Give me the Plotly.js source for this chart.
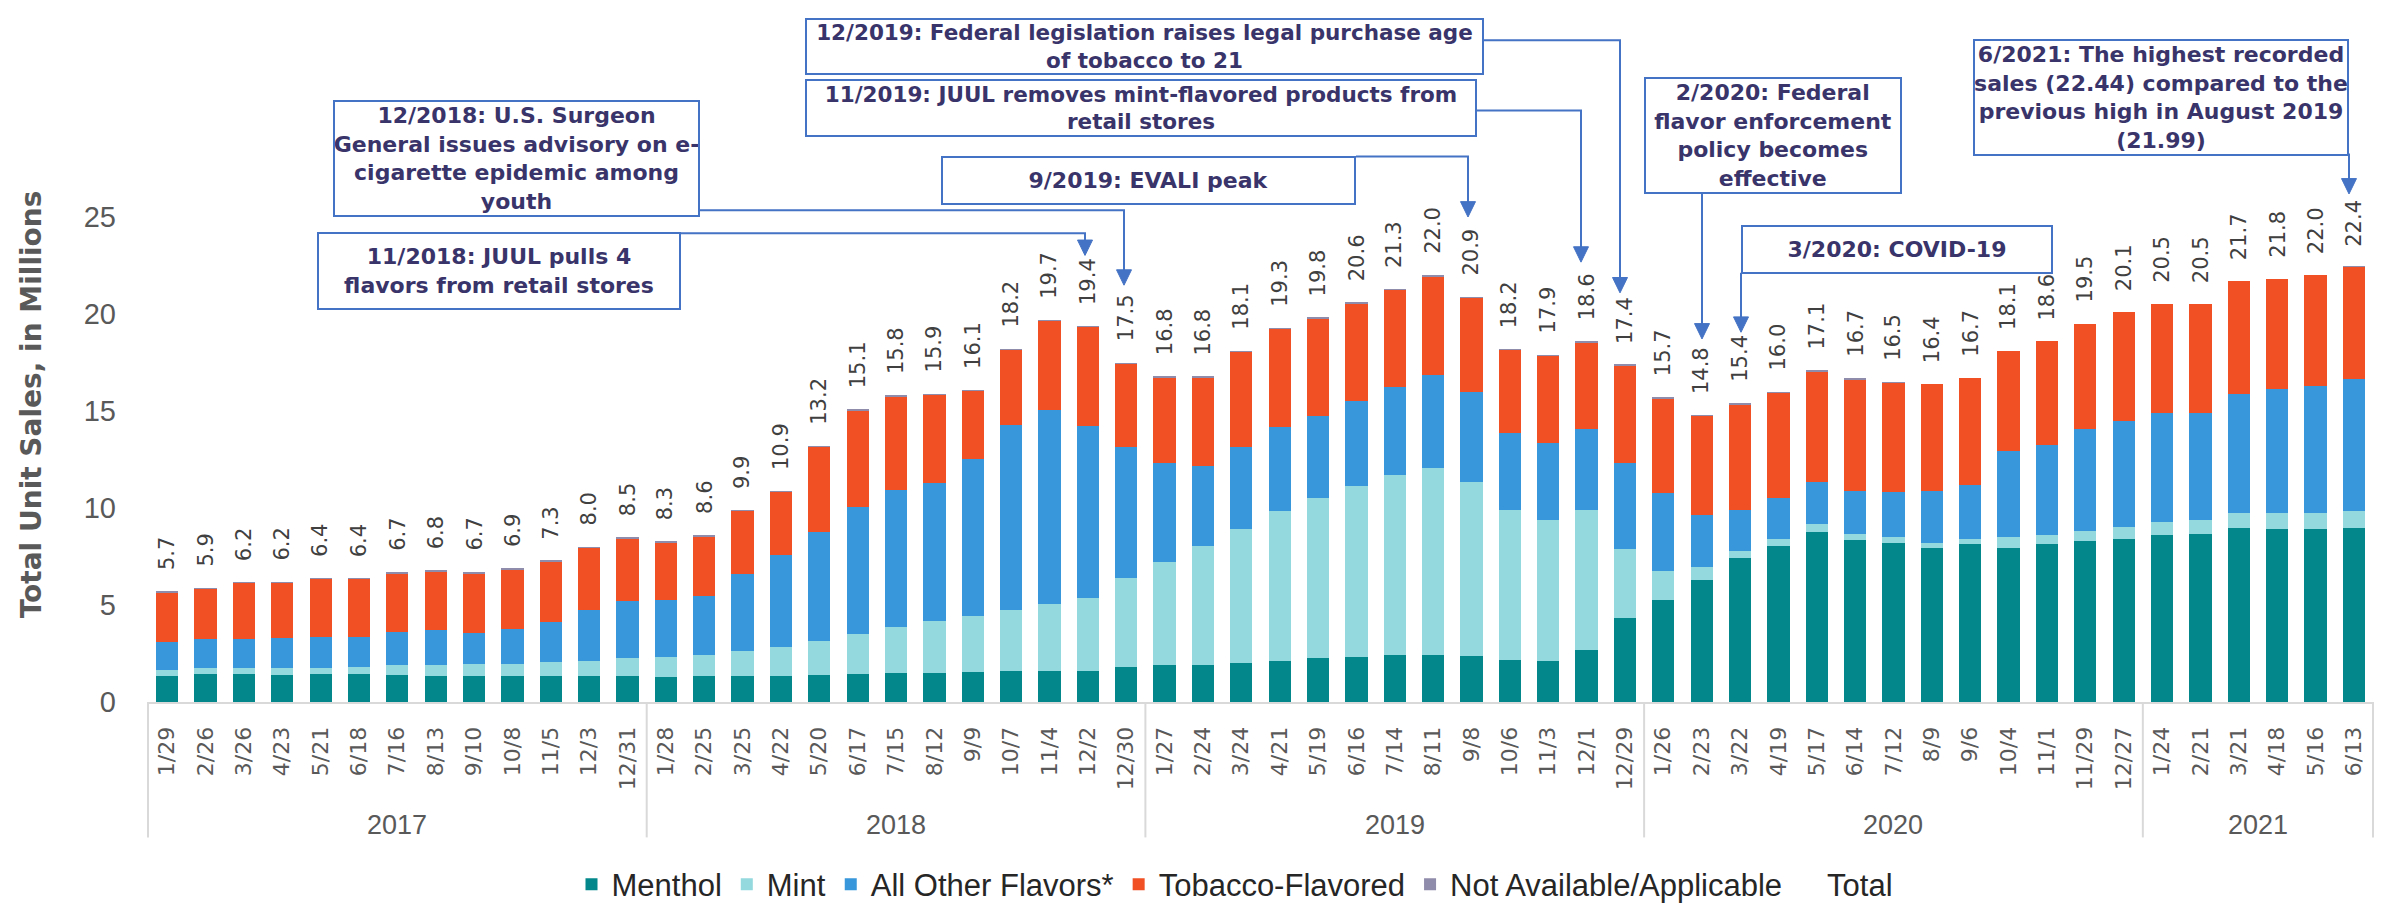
<!DOCTYPE html>
<html>
<head>
<meta charset="utf-8">
<script src="https://cdn.plot.ly/plotly-3.0.1.min.js"></script>
<style>
html,body{margin:0;padding:0;background:#fff;}
#chart{width:2381px;height:919px;}
</style>
</head>
<body>
<div id="chart"></div>
<script>
// ---------- data ----------
const years = ['2017', '2018', '2019', '2020', '2021'];
const weeksPerYear = [13, 13, 13, 13, 6];
const weekLabels = [
  '1/29','2/26','3/26','4/23','5/21','6/18','7/16','8/13','9/10','10/8','11/5','12/3','12/31',
  '1/28','2/25','3/25','4/22','5/20','6/17','7/15','8/12','9/9','10/7','11/4','12/2','12/30',
  '1/27','2/24','3/24','4/21','5/19','6/16','7/14','8/11','9/8','10/6','11/3','12/1','12/29',
  '1/26','2/23','3/22','4/19','5/17','6/14','7/12','8/9','9/6','10/4','11/1','11/29','12/27',
  '1/24','2/21','3/21','4/18','5/16','6/13'
];
const menthol = [
  1.36,1.42,1.43,1.40,1.43,1.43,1.40,1.36,1.33,1.36,1.33,1.36,1.36,
  1.29,1.33,1.36,1.36,1.40,1.45,1.49,1.52,1.54,1.58,1.61,1.61,1.79,
  1.93,1.93,2.02,2.12,2.25,2.32,2.41,2.44,2.35,2.19,2.12,2.69,4.35,
  5.26,6.28,7.42,8.05,8.76,8.35,8.18,7.96,8.14,7.96,8.12,8.30,8.42,
  8.60,8.67,8.97,8.92,8.92,8.99
];
const mint = [
  0.29,0.31,0.34,0.33,0.34,0.38,0.49,0.53,0.62,0.60,0.71,0.76,0.89,
  1.01,1.11,1.28,1.49,1.75,2.07,2.37,2.64,2.87,3.16,3.42,3.74,4.58,
  5.31,6.09,6.88,7.74,8.28,8.83,9.29,9.60,9.01,7.70,7.28,7.22,3.56,
  1.48,0.66,0.37,0.36,0.39,0.32,0.35,0.25,0.27,0.52,0.50,0.51,0.62,
  0.69,0.71,0.76,0.81,0.81,0.83
];
const otherFlavors = [
  1.43,1.52,1.49,1.58,1.59,1.55,1.74,1.84,1.61,1.79,2.08,2.64,2.97,
  2.96,3.03,3.94,4.71,5.61,6.53,7.08,7.11,8.10,9.53,10.00,8.86,6.76,
  5.10,4.12,4.22,4.30,4.21,4.35,4.53,4.83,4.62,3.99,3.96,4.18,4.39,
  4.02,2.71,2.12,2.12,2.20,2.20,2.28,2.69,2.78,4.46,4.64,5.26,5.46,
  5.59,5.50,6.15,6.38,6.57,6.85
];
const tobacco = [
  2.52,2.57,2.86,2.81,2.96,2.96,2.99,2.99,3.06,3.07,3.10,3.16,3.20,
  2.96,3.05,3.24,3.26,4.36,4.97,4.78,4.55,3.51,3.85,4.59,5.11,4.29,
  4.38,4.58,4.90,5.06,5.00,5.02,4.99,5.06,4.84,4.24,4.46,4.43,5.02,
  4.86,5.07,5.41,5.39,5.67,5.75,5.61,5.47,5.50,5.15,5.33,5.42,5.59,
  5.61,5.61,5.81,5.68,5.69,5.76
];
const notAvailable = [
  0.10,0.08,0.08,0.08,0.08,0.08,0.08,0.08,0.08,0.08,0.08,0.08,0.08,
  0.08,0.08,0.08,0.08,0.08,0.08,0.08,0.08,0.08,0.08,0.08,0.08,0.08,
  0.08,0.08,0.08,0.08,0.08,0.08,0.08,0.08,0.08,0.08,0.08,0.08,0.08,
  0.08,0.08,0.08,0.08,0.08,0.08,0.08,0.02,0.02,0.02,0.02,0.02,0.02,
  0.02,0.02,0.02,0.02,0.02,0.02
];
const totals = [
  5.7,5.9,6.2,6.2,6.4,6.4,6.7,6.8,6.7,6.9,7.3,8.0,8.5,
  8.3,8.6,9.9,10.9,13.2,15.1,15.8,15.9,16.1,18.2,19.7,19.4,17.5,
  16.8,16.8,18.1,19.3,19.8,20.6,21.3,22.0,20.9,18.2,17.9,18.6,17.4,
  15.7,14.8,15.4,16.0,17.1,16.7,16.5,16.4,16.7,18.1,18.6,19.5,20.1,
  20.5,20.5,21.7,21.8,22.0,22.4
];
const seriesNames = ['Menthol', 'Mint', 'All Other Flavors*', 'Tobacco-Flavored', 'Not Available/Applicable', 'Total'];
const seriesColors = ['#03878b', '#93d9de', '#3797da', '#f05024', '#8f8bab'];

// ---------- build ----------
const stackSeries = [menthol, mint, otherFlavors, tobacco, notAvailable];
const traces = stackSeries.map((vals, k) => ({
  type: 'bar',
  name: seriesNames[k],
  x: weekLabels,
  y: vals,
  marker: {color: seriesColors[k], line: {width: 0}},
  hoverinfo: 'skip'
}));
traces.push({
  type: 'scatter',
  mode: 'lines',
  name: seriesNames[5],
  x: weekLabels,
  y: totals,
  line: {width: 0, color: 'rgba(0,0,0,0)'},
  hoverinfo: 'skip'
});

// pixel geometry of the plot area
const W = 2381, Hh = 919;
const L = 147, R = 2374, T = 217, B = 722;
const pw = R - L, ph = B - T;
const px = x => (x - L) / pw;
const py = y => (B - y) / ph;

const annotations = [];
const shapes = [];

// total labels
totals.forEach((t, i) => {
  annotations.push({
    xref: 'x', yref: 'y', x: i, y: t,
    text: t.toFixed(1), textangle: -90, showarrow: false,
    xanchor: 'center', yanchor: 'bottom', yshift: 19,
    font: {family: 'DejaVu Sans', size: 21, color: '#404040'}
  });
});

// year group labels + dividers
let start = 0;
const divColor = '#d9d9d9';
years.forEach((yr, k) => {
  const n = weeksPerYear[k];
  annotations.push({
    xref: 'x', yref: 'paper', x: start + (n - 1) / 2, y: py(850),
    text: yr, showarrow: false, xanchor: 'center', yanchor: 'middle',
    font: {family: 'Liberation Sans', size: 27, color: '#595959'}
  });
  shapes.push({type: 'line', xref: 'x', yref: 'paper', x0: start - 0.5, x1: start - 0.5,
    y0: py(722), y1: py(863), line: {color: divColor, width: 2}});
  start += n;
});
shapes.push({type: 'line', xref: 'x', yref: 'paper', x0: start - 0.5, x1: start - 0.5,
  y0: py(722), y1: py(863), line: {color: divColor, width: 2}});

// y axis title
annotations.push({
  xref: 'paper', yref: 'paper', x: px(31), y: py(412),
  text: '<b>Total Unit Sales, in Millions</b>', textangle: -90, showarrow: false,
  xanchor: 'center', yanchor: 'middle',
  font: {family: 'DejaVu Sans', size: 28, color: '#595959'}
});

// event boxes
const boxColor = '#4472c4';
const boxText = '#39346a';
function box(text, x0, x1, y0, y1, size) {
  annotations.push({
    xref: 'paper', yref: 'paper',
    x: px((x0 + x1) / 2), y: py((y0 + y1) / 2),
    xanchor: 'center', yanchor: 'middle',
    width: x1 - x0 - 4, height: y1 - y0 - 4,
    text: '<b>' + text + '</b>', showarrow: false, align: 'center', valign: 'middle',
    bordercolor: boxColor, borderwidth: 2, borderpad: 0, bgcolor: '#ffffff',
    font: {family: 'DejaVu Sans', size: size || 22, color: boxText}
  });
}
box('12/2019: Federal legislation raises legal purchase age<br>of tobacco to 21', 805, 1484, 11, 68, 21.5);
box('11/2019: JUUL removes mint-flavored products from<br>retail stores', 805, 1477, 74, 132, 21.5);
box('12/2018: U.S. Surgeon<br>General issues advisory on e-<br>cigarette epidemic among<br>youth', 333, 700, 98, 215);
box('9/2019: EVALI peak', 941, 1356, 154, 203);
box('11/2018: JUUL pulls 4<br>flavors from retail stores', 317, 681, 234, 312);
box('2/2020: Federal<br>flavor enforcement<br>policy becomes<br>effective', 1644, 1902, 74, 191);
box('6/2021: The highest recorded<br>sales (22.44) compared to the<br>previous high in August 2019<br>(21.99)', 1973, 2349, 34, 151);
box('3/2020: COVID-19', 1741, 2053, 226, 275);

// connectors with arrowheads
const connectors = [
  [[681, 234], [1085, 234], [1085, 257]],
  [[700, 210], [1124, 210], [1124, 288]],
  [[1356, 154], [1468, 154], [1468, 217]],
  [[1477, 106], [1581, 106], [1581, 264]],
  [[1484, 33], [1620, 33], [1620, 296]],
  [[1702, 191], [1702, 344]],
  [[1741, 275], [1741, 337]],
  [[2349, 151], [2349, 193]]
];
const headH = 16, headW = 15;
connectors.forEach(pts => {
  const tip = pts[pts.length - 1];
  const linePts = pts.slice(0, -1).concat([[tip[0], tip[1] - headH + 2]]);
  const d = linePts.map((p, i) => (i ? 'L' : 'M') + px(p[0]) + ',' + py(p[1])).join(' ');
  shapes.push({type: 'path', xref: 'paper', yref: 'paper', path: d,
    line: {color: boxColor, width: 2}, layer: 'above'});
  const tri = 'M' + px(tip[0]) + ',' + py(tip[1]) +
    ' L' + px(tip[0] - headW / 2) + ',' + py(tip[1] - headH) +
    ' L' + px(tip[0] + headW / 2) + ',' + py(tip[1] - headH) + ' Z';
  shapes.push({type: 'path', xref: 'paper', yref: 'paper', path: tri,
    fillcolor: boxColor, line: {color: boxColor, width: 1}, layer: 'above'});
});

const layout = {
  width: W, height: Hh,
  margin: {l: L, r: W - R, t: T, b: Hh - B, pad: 0},
  paper_bgcolor: '#ffffff', plot_bgcolor: '#ffffff',
  barmode: 'stack', bargap: 0.42,
  showlegend: true,
  hovermode: false,
  xaxis: {
    type: 'category',
    tickangle: -90,
    tickfont: {family: 'DejaVu Sans', size: 22, color: '#595959'},
    showline: true, linecolor: '#d9d9d9', linewidth: 2,
    ticks: '', showgrid: false, zeroline: false,
    ticklabelstandoff: 14
  },
  yaxis: {
    range: [0, 25], tick0: 0, dtick: 5,
    showgrid: false, zeroline: false, showline: false, ticks: '',
    tickfont: {family: 'Liberation Sans', size: 29, color: '#595959'},
    ticklabelstandoff: 30
  },
  legend: {
    orientation: 'h', x: px(1235), xanchor: 'center', y: py(912), yanchor: 'middle',
    font: {family: 'Liberation Sans', size: 31, color: '#262626'},
    itemwidth: 30, traceorder: 'normal', bgcolor: 'rgba(0,0,0,0)'
  },
  annotations: annotations,
  shapes: shapes
};

Plotly.newPlot('chart', traces, layout, {displayModeBar: false, staticPlot: true});
</script>
</body>
</html>
